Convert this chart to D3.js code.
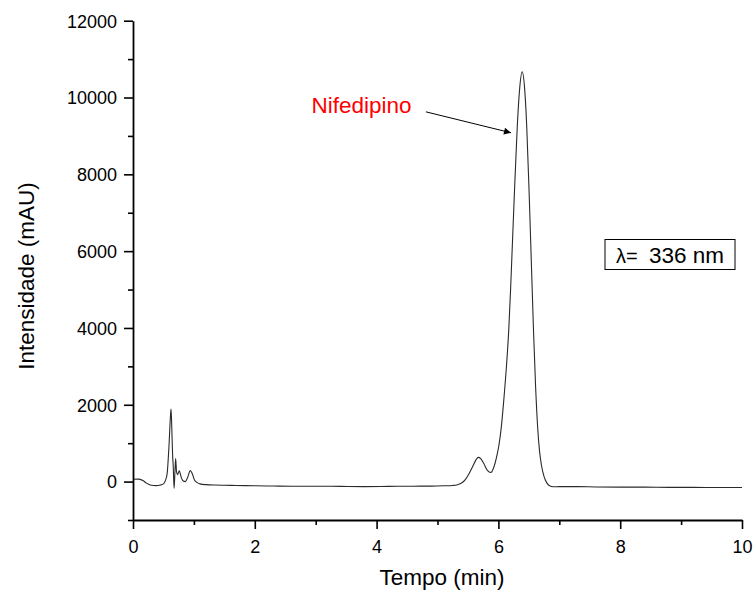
<!DOCTYPE html>
<html>
<head>
<meta charset="utf-8">
<script src="https://cdn.jsdelivr.net/npm/d3@7"></script>
<style>
  body { margin: 0; background: #fff; }
  text { font-family: Arial, "Liberation Sans", sans-serif; }
</style>
</head>
<body>
<div id="chart"></div>
<script>
// Chromatogram data
var tempo = [0.00, 0.10, 0.17, 0.22, 0.30, 0.38, 0.45, 0.50, 0.53, 0.56, 0.59, 0.615, 0.625, 0.635, 0.65,
    0.66, 0.675, 0.69, 0.70, 0.715, 0.73, 0.76, 0.79, 0.82, 0.86, 0.90, 0.94, 0.97, 1.01, 1.05,
    1.10, 1.20, 1.35, 1.50, 1.70, 2.00, 2.30, 2.60, 3.00, 3.40, 3.80, 4.20, 4.60, 4.90, 5.10,
    5.25, 5.33, 5.40, 5.46, 5.52, 5.58, 5.63, 5.67, 5.71, 5.76, 5.82, 5.875, 5.93, 5.97, 6.01,
    6.05, 6.09, 6.13, 6.17, 6.20, 6.23, 6.26, 6.31, 6.35, 6.39, 6.43, 6.465, 6.505, 6.545, 6.575,
    6.61, 6.645, 6.675, 6.71, 6.75, 6.79, 6.84, 6.90, 7.00, 7.30, 7.60, 8.00, 8.40, 8.80, 9.20, 9.60, 10.00];
var intensidade = [60, 65, 20, -40, -95, -105, -90, -60, 20, 200, 900, 1700, 1890, 1500, 700,
    420, -180, 300, 600, 250, 180, 280, 120, 20, 0, 120, 285, 220, 40, -20,
    -60, -80, -90, -95, -100, -110, -115, -120, -120, -125, -130, -125, -120, -118, -110,
    -100, -80, -30, 60, 210, 400, 560, 630, 600, 470, 290, 235, 400, 640, 960,
    1450, 2150, 2950, 3950, 5000, 6200, 7400, 9250, 10250, 10670, 10250, 9250, 7500, 5500, 4000,
    2500, 1400, 800, 400, 130, -20, -110, -135, -130, -130, -140, -145, -145, -150, -150, -155, -155];

var xTicks = [0, 2, 4, 6, 8, 10];
var yTicks = [0, 2000, 4000, 6000, 8000, 10000, 12000];

var width = 754, height = 592;

var svg = d3.select("#chart").append("svg")
    .attr("width", width)
    .attr("height", height);

var x = d3.scaleLinear().domain([0, 10]).range([133, 742]);
var y = d3.scaleLinear().domain([-1000, 12000]).range([520, 20.7]);

var data = tempo.map(function(t, i) { return [t, intensidade[i]]; });

// Trace
var line = d3.line()
    .x(d => x(d[0]))
    .y(d => y(d[1]))
    .curve(d3.curveMonotoneX);

svg.append("path")
    .datum(data)
    .attr("d", line)
    .attr("fill", "none")
    .attr("stroke", "#2a2a2a")
    .attr("stroke-width", 1.1);

// Minor ticks
svg.append("g")
    .attr("transform", "translate(0,520)")
    .call(d3.axisBottom(x).tickValues(d3.range(1, 10, 2)).tickSize(5).tickFormat(""))
    .call(g => g.select(".domain").remove());
svg.append("g")
    .attr("transform", "translate(133,0)")
    .call(d3.axisLeft(y).tickValues(d3.range(-1000, 12000, 2000)).tickSize(5).tickFormat(""))
    .call(g => g.select(".domain").remove());

// Major axes
var xAxis = svg.append("g")
    .attr("transform", "translate(0,520)")
    .call(d3.axisBottom(x).tickValues(xTicks).tickFormat(d3.format("d"))
        .tickSizeInner(9).tickSizeOuter(0).tickPadding(11));
var yAxis = svg.append("g")
    .attr("transform", "translate(133,0)")
    .call(d3.axisLeft(y).tickValues(yTicks).tickFormat(d3.format("d"))
        .tickSizeInner(9).tickSizeOuter(0).tickPadding(7));

svg.selectAll(".tick line").attr("stroke", "#000").attr("stroke-width", 1.6);
svg.selectAll(".domain").attr("stroke", "#000").attr("stroke-width", 1.8);
xAxis.selectAll("text").style("font-size", "18px").attr("fill", "#000");
yAxis.selectAll("text").style("font-size", "18px").attr("fill", "#000").attr("dy", "0.35em");

// Axis titles
svg.append("text")
    .attr("x", 442)
    .attr("y", 585)
    .attr("text-anchor", "middle")
    .style("font-size", "22.5px")
    .text("Tempo (min)");

svg.append("text")
    .attr("transform", "translate(34,276) rotate(-90)")
    .attr("text-anchor", "middle")
    .style("font-size", "22.5px")
    .text("Intensidade (mAU)");

// Peak annotation
svg.append("defs").append("marker")
    .attr("id", "arrow")
    .attr("viewBox", "0 0 10 10")
    .attr("refX", 10).attr("refY", 5)
    .attr("markerWidth", 11).attr("markerHeight", 7)
    .attr("markerUnits", "userSpaceOnUse")
    .attr("orient", "auto")
    .append("path")
    .attr("d", "M0,0 L10,5 L0,10 z")
    .attr("fill", "#000");

svg.append("text")
    .attr("x", x(2.93))
    .attr("y", y(9590))
    .attr("fill", "#ff0000")
    .style("font-size", "22.5px")
    .text("Nifedipino");

svg.append("line")
    .attr("x1", x(4.81)).attr("y1", y(9627))
    .attr("x2", x(6.207)).attr("y2", y(9082))
    .attr("stroke", "#000")
    .attr("stroke-width", 1)
    .attr("marker-end", "url(#arrow)");

// Wavelength box
svg.append("rect")
    .attr("x", 605).attr("y", 239.5)
    .attr("width", 130).attr("height", 30)
    .attr("fill", "#fff")
    .attr("stroke", "#000")
    .attr("stroke-width", 1);

var lab = svg.append("text")
    .attr("y", 263);
lab.append("tspan").attr("x", 616).style("font-size", "20px").text("λ=");
lab.append("tspan").attr("x", 649).style("font-size", "22.5px").text("336 nm");
</script>
</body>
</html>
